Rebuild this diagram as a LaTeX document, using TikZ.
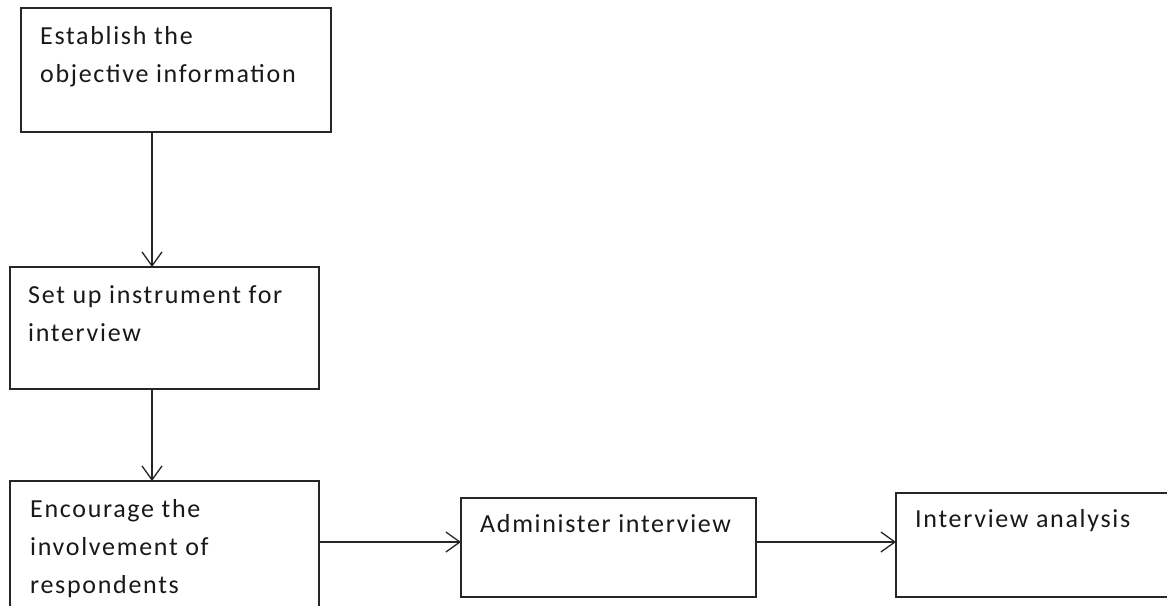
\documentclass[tikz,border=0pt]{standalone}
\usepackage{fontspec}
\setmainfont[LetterSpace=6.5]{Carlito}
\usetikzlibrary{arrows.meta,calc}
\begin{document}
\begin{tikzpicture}[x=1pt,y=-1pt,
  boxnode/.style={draw=black!85,line width=1.3pt,rectangle,inner sep=0pt,outer sep=0pt,anchor=north west},
  lbl/.style={anchor=base west,inner sep=0pt,align=left,font=\fontsize{26}{38}\selectfont,text=black!90},
  arr/.style={draw=black!85,line width=1.3pt,-{Straight Barb[length=14pt,width=20pt,line width=1.3pt]}}]
\clip (0,0) rectangle (1167,605);
\fill[white] (0,0) rectangle (1167,605);
\node[boxnode,minimum width=310pt,minimum height=124pt] (b1) at (21,8) {};
\node[boxnode,minimum width=309pt,minimum height=122pt] (b2) at (10,267) {};
\node[boxnode,minimum width=309pt,minimum height=140pt] (b3) at (10,481) {};
\node[boxnode,minimum width=295pt,minimum height=99pt] (b4) at (461,498) {};
\node[boxnode,minimum width=290pt,minimum height=104pt] (b5) at (896,493) {};
% base anchor = baseline of the last line
\node[lbl] (t1) at ($(b1.north west)+(19,74)$) {Establish the\\objective information};
\node[lbl] (t2) at ($(b2.north west)+(18,74)$) {Set up instrument for\\interview};
\node[lbl] (t3) at ($(b3.north west)+(20,112)$) {Encourage the\\involvement of\\respondents};
\node[lbl] (t4) at ($(b4.north west)+(19,34)$) {Administer interview};
\node[lbl] (t5) at ($(b5.north west)+(19,34)$) {Interview analysis};
\coordinate (ax) at (152,0);
\coordinate (ay) at (0,542);
\draw[arr] (b1.south -| ax) -- (b2.north -| ax);
\draw[arr] (b2.south -| ax) -- (b3.north -| ax);
\draw[arr] (b3.east |- ay) -- (b4.west |- ay);
\draw[arr] (b4.east |- ay) -- (b5.west |- ay);
\end{tikzpicture}
\end{document}
